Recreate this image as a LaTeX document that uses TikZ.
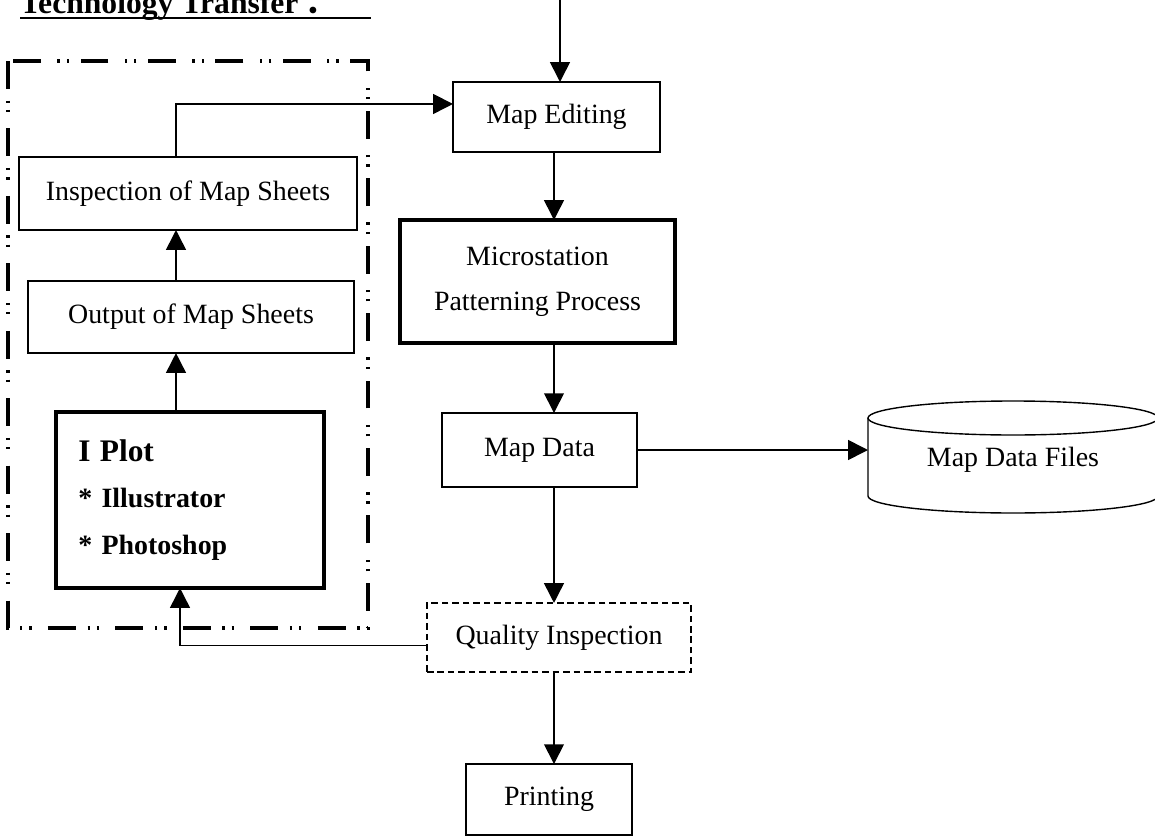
\documentclass[tikz,border=0pt]{standalone}
\usepackage{fontspec}
\setmainfont{Liberation Serif}
\newfontfamily\cjk{Noto Sans CJK SC}
\usetikzlibrary{arrows.meta,positioning,calc}

\begin{document}
\begin{tikzpicture}[x=0.43pt,y=-0.43pt,every node/.style={outer sep=0pt,font=\fontsize{12}{14}\selectfont}]
\tikzstyle{box}=[draw,line width=0.6pt,inner sep=0pt,align=center]
\tikzstyle{heavybox}=[box,line width=1.4pt]
\tikzstyle{dashbox}=[box,dash pattern=on 2.8pt off 1.7pt]
\tikzstyle{flow}=[line width=0.7pt,-{Triangle[length=8.5pt,width=8.5pt]}]
\tikzstyle{group}=[line width=1.3pt,dash pattern=on 12pt off 5pt on 1pt off 3pt on 1pt off 7pt]

\useasboundingbox (0,0) rectangle (1155,837);

% heading
\node (title) [anchor=base west,inner sep=0pt,font=\bfseries\fontsize{13.6}{16}\selectfont] at (20,13)
  {Technology Transfer\hspace{3pt}{\cjk ：}};
\draw [line width=1.15pt] (20,18) -- (371,18);

% left group
\draw [group] (8,61) rectangle (368,628);
\node (insp) [box,minimum width=145.3pt,minimum height=31.4pt] at (188,193.5) {Inspection of Map Sheets};
\node (outp) [box,minimum width=140.2pt,minimum height=31pt] at (191,317) {Output of Map Sheets};
\node (iplot) [heavybox,minimum width=115.2pt,minimum height=75.7pt,text width=96pt,align=left,
  font=\bfseries\fontsize{12}{20}\selectfont] at (190,500)
  {{\fontsize{13.5}{20}\selectfont I Plot}\\{*} Illustrator\\{*} Photoshop};

% main column
\node (maped) [box,minimum width=89pt,minimum height=30.1pt] at (556.5,117) {Map Editing};
\node (micro) [heavybox,minimum width=118.3pt,minimum height=52.9pt] at (537.5,281.5)
  {Microstation\\[5.4pt]Patterning Process};
\node (mapdata) [box,minimum width=83.9pt,minimum height=31.8pt] at (539.5,450) {Map Data};
\node (quality) [dashbox,minimum width=113.5pt,minimum height=29.7pt] at (559,637.5) {Quality Inspection};
\node (printing) [box,minimum width=71.4pt,minimum height=30.5pt] at (549,799.5) {Printing};

% data store
\node (files) [minimum width=124.7pt,minimum height=33pt,inner sep=0pt] at (1013,460) {Map Data Files};
\draw [line width=0.6pt] (1013,418) ellipse [x radius=145,y radius=17];
\draw [line width=0.6pt] (868,418) -- (868,496) arc [start angle=180,end angle=0,x radius=145,y radius=17] -- (1158,418);

% connectors
\coordinate (lane) at (176,0);
\coordinate (back) at (180,0);
\coordinate (spine) at (554,0);
\coordinate (feed) at (560,0);
\draw [flow] (iplot.north -| lane) -- (outp.south -| lane);
\draw [flow] (outp.north -| lane) -- (insp.south -| lane);
\draw [flow] (insp.north -| lane) |- ([yshift=5.6pt]maped.west);
\draw [flow] (feed) -- (feed |- maped.north);
\draw [flow] (maped.south -| spine) -- (micro.north -| spine);
\draw [flow] (micro.south -| spine) -- (mapdata.north -| spine);
\draw [flow] (mapdata.east) -- (mapdata.east -| files.west);
\draw [flow] (mapdata.south -| spine) -- (quality.north -| spine);
\draw [flow] (quality.south -| spine) -- (printing.north -| spine);
\draw [flow] ([yshift=-3.5pt]quality.west) -| (iplot.south -| back);
\end{tikzpicture}
\end{document}
